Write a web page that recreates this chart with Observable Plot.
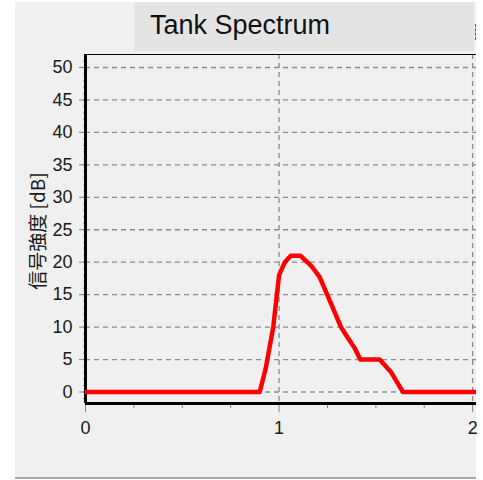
<!DOCTYPE html>
<html>
<head>
<meta charset="utf-8">
<script src="https://cdn.jsdelivr.net/npm/d3@7"></script>
<script src="https://cdn.jsdelivr.net/npm/@observablehq/plot@0.6"></script>
<style>
  html, body { margin: 0; padding: 0; background: #ffffff; }
  #wrap { position: relative; width: 483px; height: 480px; overflow: hidden; }
  #bg { position: absolute; left: 15px; top: 2px; width: 461px; height: 475px; background: #f0f0f0; border-bottom: 2px solid #a8a8a8; }
  #title { position: absolute; left: 134px; top: 2px; width: 340px; height: 49px; background: #e4e4e4;
           font-family: "Liberation Sans", Arial, sans-serif; font-size: 27px; color: #111; line-height: 47px; padding-left: 16px; box-sizing: border-box; }
  #leg { position: absolute; left: 475px; top: 24px; width: 0; height: 16px; border-left: 1px dashed #3050ff; }
  #chart { position: absolute; left: 0; top: 0; }
</style>
</head>
<body>
<div id="wrap">
  <div id="bg"></div>
  <div id="title">Tank Spectrum</div>
  <div id="leg"></div>
  <div id="chart"></div>
</div>
<script>
const freq  = [0, 0.90, 0.93, 0.97, 1.00, 1.03, 1.06, 1.11, 1.17, 1.21, 1.27, 1.32, 1.35, 1.39, 1.42, 1.52, 1.58, 1.64, 2.10];
const level = [0, 0,    3.5,  10,   18,   20,   21,   21,   19.3, 17.7, 13.5, 10,   8.6,  6.8,  5,    5,    3,    0,    0];
const yTicks = [0, 5, 10, 15, 20, 25, 30, 35, 40, 45, 50];
const yMinor = d3.range(-1, 52, 1);
const xTicks = [0, 1, 2];
const xMinor = [0.25, 0.5, 0.75, 1.25, 1.5, 1.75];
const xGrid = [1, 2];
const yLabel = "信号強度 [dB]";

const data = freq.map((f, i) => ({f, v: level[i]}));
const yMin = -1.77, yMax = 52;

const plot = Plot.plot({
  width: 483,
  height: 480,
  marginLeft: 85,
  marginRight: 7,
  marginTop: 54,
  marginBottom: 77,
  style: {background: "transparent", fontFamily: "'Liberation Sans', 'Noto Sans CJK JP', sans-serif", fontSize: "18px", color: "#1a1a1a"},
  x: {domain: [0, 2.02]},
  y: {domain: [yMin, yMax]},
  marks: [
    Plot.ruleY(yTicks, {stroke: "#8c8c8c", strokeWidth: 1.3, strokeDasharray: "5,4"}),
    Plot.ruleX(xGrid, {stroke: "#8c8c8c", strokeWidth: 1.3, strokeDasharray: "5,4"}),
    Plot.axisY({ticks: yMinor, tickSize: 2, tickFormat: () => "", stroke: "#a0a0a0", label: null}),
    Plot.axisY({ticks: yTicks, tickSize: 6, tickPadding: 7, stroke: "#808080", fill: "#1a1a1a", label: null}),
    Plot.text([yLabel], {frameAnchor: "left", textAnchor: "middle", dx: -47, dy: 2, rotate: -90, fontSize: 19, fill: "#1a1a1a",
                         fontFamily: "'Noto Sans CJK JP', sans-serif"}),
    Plot.axisX({ticks: xMinor, tickSize: 5, tickFormat: () => "", stroke: "#808080", label: null}),
    Plot.axisX({ticks: xTicks, tickSize: 9, tickPadding: 9, stroke: "#808080", fill: "#1a1a1a", label: null, tickFormat: d3.format("d")}),
    Plot.ruleY([yMax], {stroke: "#000", strokeWidth: 1}),
    Plot.ruleY([yMin], {stroke: "#000", strokeWidth: 3}),
    Plot.ruleX([0], {stroke: "#000", strokeWidth: 3}),
    Plot.line(data, {x: "f", y: "v", stroke: "#ff0000", strokeWidth: 4.5, strokeLinejoin: "round", clip: true})
  ]
});
document.getElementById("chart").appendChild(plot);
</script>
</body>
</html>
